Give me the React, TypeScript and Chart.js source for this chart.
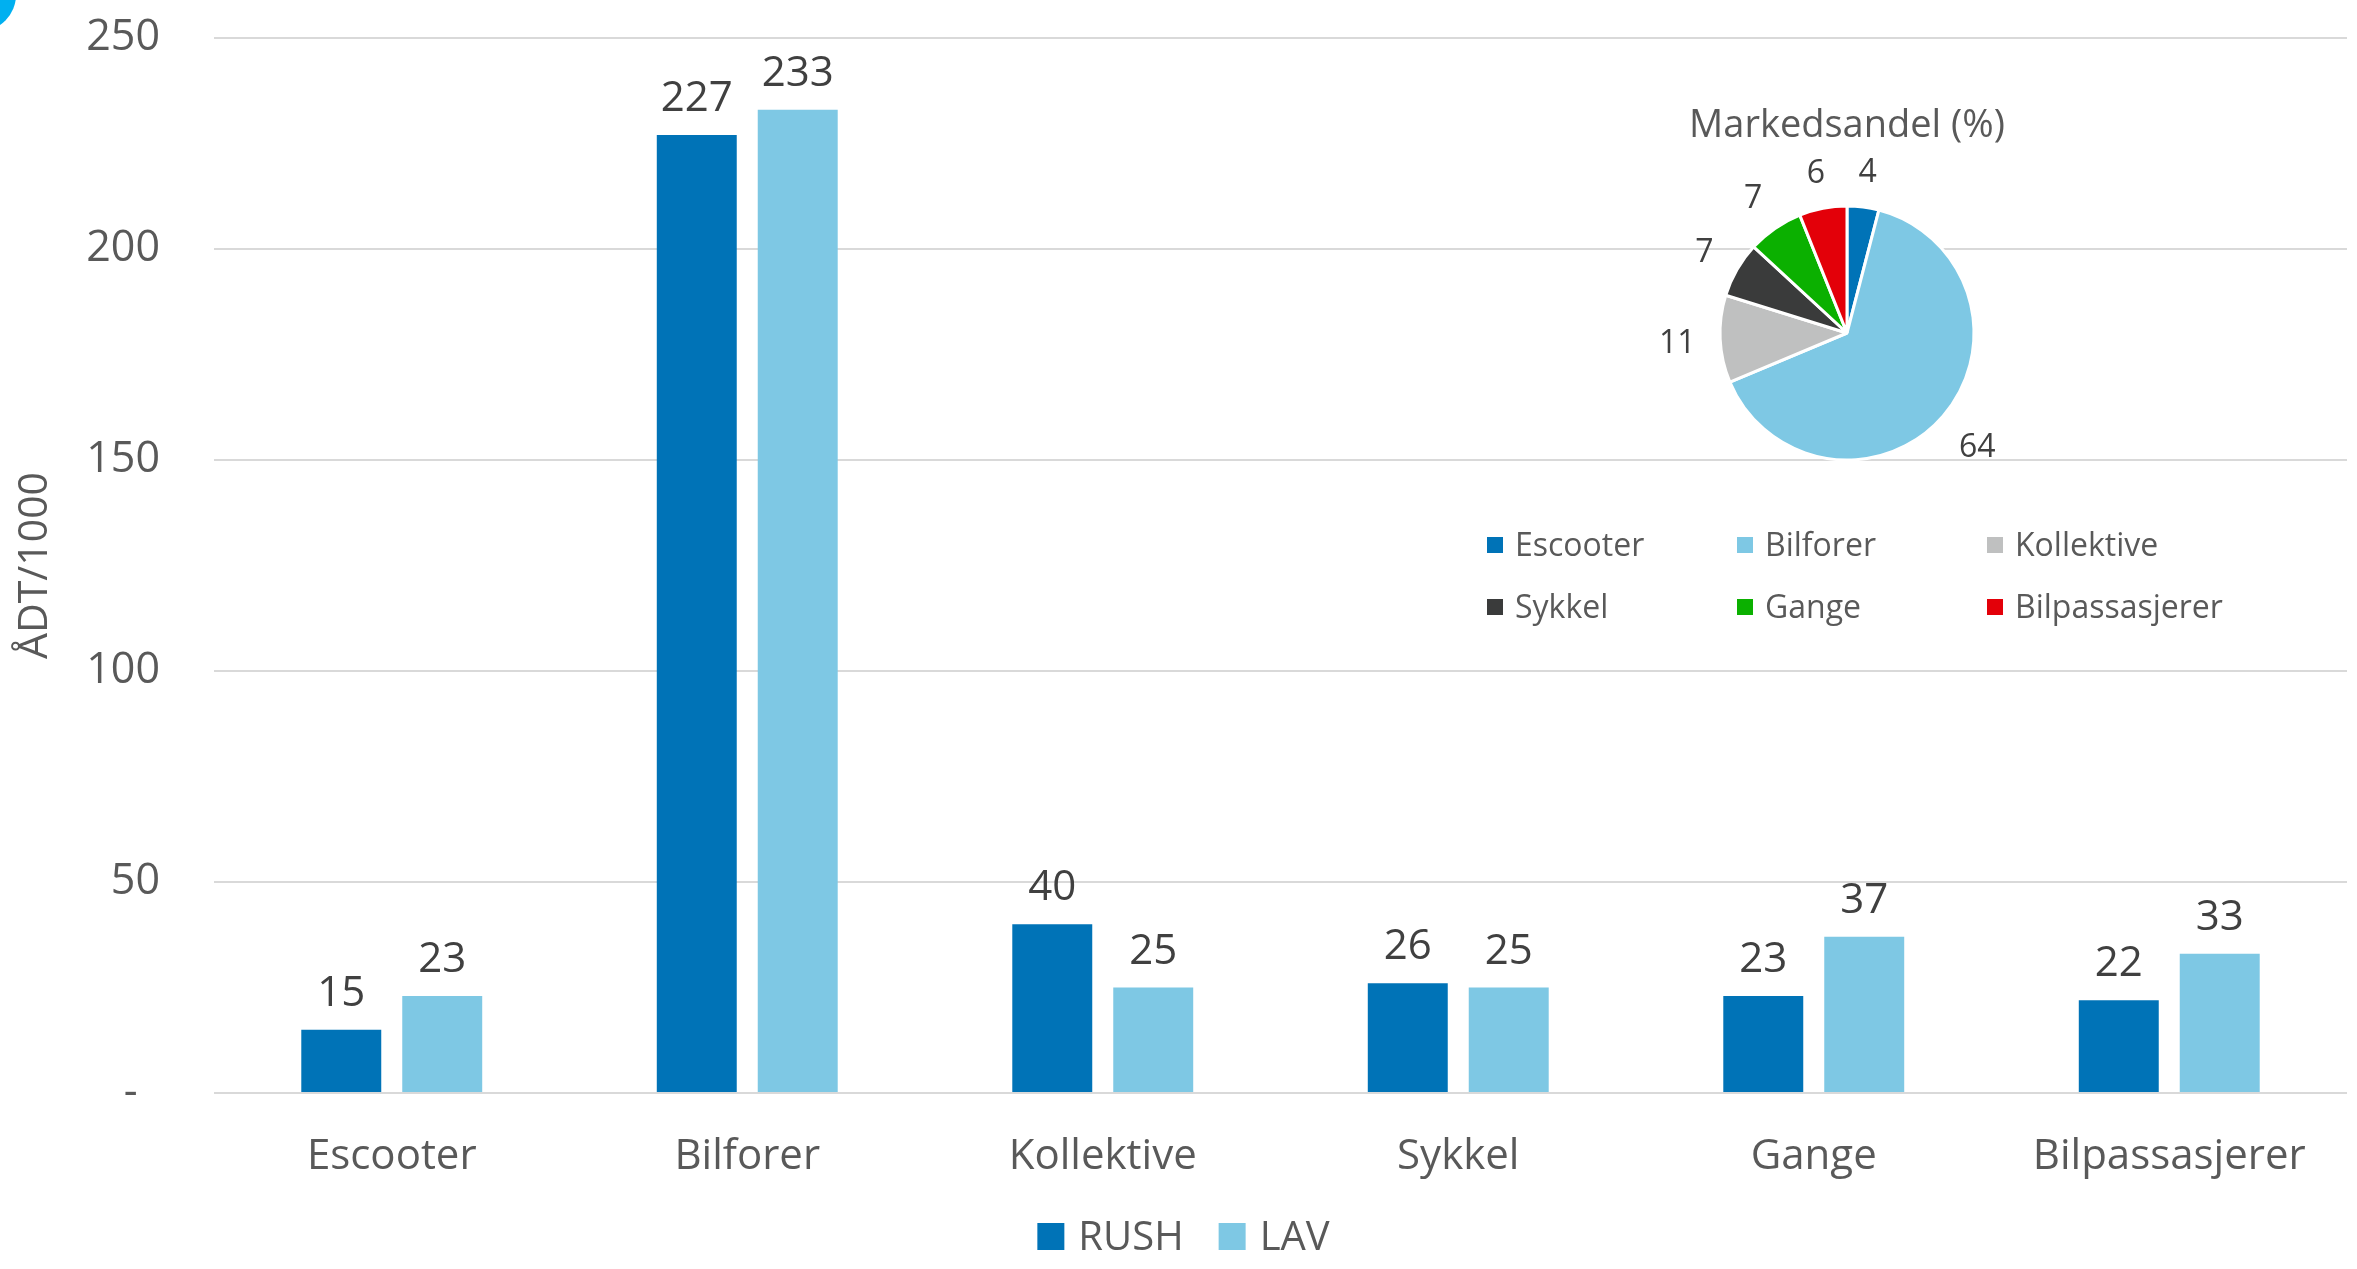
import React, { useEffect, useRef } from 'react';
import { Chart, registerables } from 'chart.js';

Chart.register(...registerables);

// ---------- data ----------
const categories = ['Escooter', 'Bilforer', 'Kollektive', 'Sykkel', 'Gange', 'Bilpassasjerer'];
const seriesNames = ['RUSH', 'LAV'];
const rushValues = [15, 227, 40, 26, 23, 22];
const lavValues = [23, 233, 25, 25, 37, 33];
const yTickValues = [0, 50, 100, 150, 200, 250];
const yAxisTitle = 'ÅDT/1000';
const pieTitle = 'Markedsandel (%)';
const pieLabels = ['Escooter', 'Bilforer', 'Kollektive', 'Sykkel', 'Gange', 'Bilpassasjerer'];
const pieShares = [4, 64, 11, 7, 7, 6];

// ---------- styles ----------
const W = 2357;
const H = 1269;
const FONT = "'Open Sans', 'Noto Sans', sans-serif";
const AXIS_TEXT = '#595959';
const VALUE_TEXT = '#404040';
const RUSH_COLOR = '#0073B7';
const LAV_COLOR = '#7EC8E4';
const PIE_COLORS = ['#0073B7', '#7EC8E4', '#BFC0C0', '#3A3B3B', '#0BB000', '#E30009'];

// pie canvas placement
const PIE_LEFT = 1440;
const PIE_TOP = 60;
const PIE_W = 860;
const PIE_H = 600;
const PIE_CX = 407;
const PIE_CY = 273;
const PIE_R = 127;

const barLabelPlugin = {
  id: 'barLabels',
  afterDatasetsDraw(chart: any) {
    const ctx = chart.ctx;
    ctx.save();
    ctx.font = `42px ${FONT}`;
    ctx.fillStyle = VALUE_TEXT;
    ctx.textAlign = 'center';
    ctx.textBaseline = 'alphabetic';
    chart.data.datasets.forEach((ds: any, di: number) => {
      const meta = chart.getDatasetMeta(di);
      meta.data.forEach((bar: any, i: number) => {
        ctx.fillText(String(ds.data[i]), bar.x, bar.y - 24);
      });
    });
    ctx.restore();
  },
};

const mainLegendPlugin = {
  id: 'mainLegend',
  afterDraw(chart: any) {
    const ctx = chart.ctx;
    const box = 27;
    const gapText = 14;
    const gapItem = 35;
    ctx.save();
    ctx.font = `40px ${FONT}`;
    const items = chart.data.datasets.map((ds: any) => ({
      text: ds.label,
      color: ds.backgroundColor,
      w: ctx.measureText(ds.label).width,
    }));
    let total = 0;
    items.forEach((it: any, i: number) => {
      total += box + gapText + it.w + (i < items.length - 1 ? gapItem : 0);
    });
    let x = chart.width / 2 + 5 - total / 2;
    const boxTop = chart.chartArea.bottom + 130;
    items.forEach((it: any) => {
      ctx.fillStyle = it.color;
      ctx.fillRect(x, boxTop, box, box);
      ctx.fillStyle = AXIS_TEXT;
      ctx.textAlign = 'left';
      ctx.textBaseline = 'alphabetic';
      ctx.fillText(it.text, x + box + gapText, boxTop + box);
      x += box + gapText + it.w + gapItem;
    });
    ctx.restore();
  },
};

const cornerDecorPlugin = {
  id: 'cornerDecor',
  beforeDraw(chart: any) {
    const ctx = chart.ctx;
    ctx.save();
    ctx.fillStyle = '#00B0F0';
    ctx.beginPath();
    ctx.arc(-20, -5, 36, 0, Math.PI * 2);
    ctx.fill();
    ctx.restore();
  },
};

const pieExtrasPlugin = {
  id: 'pieExtras',
  afterDraw(chart: any) {
    const ctx = chart.ctx;
    ctx.save();
    // title
    ctx.font = `38px ${FONT}`;
    ctx.fillStyle = AXIS_TEXT;
    ctx.textAlign = 'center';
    ctx.textBaseline = 'alphabetic';
    const meta = chart.getDatasetMeta(0);
    const cx = meta.data[0].x;
    const cy = meta.data[0].y;
    ctx.fillText(pieTitle, cx, cy - meta.data[0].outerRadius - 69);

    // slice labels (outside end)
    ctx.font = `32px ${FONT}`;
    ctx.fillStyle = VALUE_TEXT;
    const capH = 23;
    const ds = chart.data.datasets[0];
    meta.data.forEach((arc: any, i: number) => {
      const mid = (arc.startAngle + arc.endAngle) / 2;
      const dx = Math.cos(mid);
      const dy = Math.sin(mid);
      const txt = String(ds.data[i]);
      const w = ctx.measureText(txt).width;
      const support = Math.abs(dx) * w / 2 + Math.abs(dy) * capH / 2;
      const dist = arc.outerRadius + 24 + support;
      const lx = arc.x + dx * dist;
      const ly = arc.y + dy * dist;
      ctx.fillText(txt, lx, ly + capH / 2);
    });

    // legend 3 x 2
    ctx.font = `32px ${FONT}`;
    ctx.textAlign = 'left';
    const colX = [47, 297, 547];
    const rowY = [485, 547];
    const sq = 16;
    chart.data.labels.forEach((lab: string, i: number) => {
      const x = colX[i % 3];
      const y = rowY[Math.floor(i / 3)];
      ctx.fillStyle = ds.backgroundColor[i];
      ctx.fillRect(x, y - sq / 2, sq, sq);
      ctx.fillStyle = AXIS_TEXT;
      ctx.fillText(lab, x + sq + 12, y + 11);
    });
    ctx.restore();
  },
};

export default function App() {
  const mainRef = useRef<HTMLCanvasElement | null>(null);
  const pieRef = useRef<HTMLCanvasElement | null>(null);

  useEffect(() => {
    document.body.style.margin = '0';
    document.body.style.overflow = 'hidden';
    const mainChart = new Chart(mainRef.current as HTMLCanvasElement, {
      type: 'bar',
      data: {
        labels: categories,
        datasets: [
          { label: seriesNames[0], data: rushValues, backgroundColor: RUSH_COLOR, categoryPercentage: 0.568, barPercentage: 0.792 },
          { label: seriesNames[1], data: lavValues, backgroundColor: LAV_COLOR, categoryPercentage: 0.568, barPercentage: 0.792 },
        ],
      },
      options: {
        animation: false,
        responsive: false,
        events: [],
        layout: { padding: { top: 38, right: 10, left: 0, bottom: 0 } },
        plugins: { legend: { display: false }, tooltip: { enabled: false } },
        scales: {
          x: {
            grid: { display: false, drawTicks: false },
            border: { display: false },
            ticks: { font: { family: FONT, size: 42 }, color: AXIS_TEXT, padding: 39 },
            afterFit: (s: any) => { s.height = 176; },
          },
          y: {
            min: 0,
            max: 250,
            afterBuildTicks: (s: any) => { s.ticks = yTickValues.map((v) => ({ value: v })); },
            ticks: {
              font: { family: FONT, size: 43 },
              color: AXIS_TEXT,
              padding: 54,
              callback: (v: any) => (Number(v) === 0 ? '-  ' : String(v)),
            },
            grid: { color: '#D9D9D9', lineWidth: 2, drawTicks: false },
            border: { display: false },
            title: {
              display: true,
              text: yAxisTitle,
              font: { family: FONT, size: 41 },
              color: AXIS_TEXT,
              padding: { top: 11, bottom: 0 },
            },
            afterFit: (s: any) => {
              s.width = 214;
              s.paddingTop = 0;
              s.paddingBottom = 0;
            },
          },
        },
      },
      plugins: [cornerDecorPlugin, barLabelPlugin, mainLegendPlugin],
    });

    const pieChart = new Chart(pieRef.current as HTMLCanvasElement, {
      type: 'pie',
      data: {
        labels: pieLabels,
        datasets: [
          {
            data: pieShares,
            backgroundColor: PIE_COLORS,
            borderColor: '#FFFFFF',
            borderWidth: 3,
            radius: PIE_R,
          } as any,
        ],
      },
      options: {
        animation: false,
        responsive: false,
        events: [],
        layout: { padding: { left: 0, top: 0, right: PIE_W - 2 * PIE_CX, bottom: PIE_H - 2 * PIE_CY } },
        plugins: { legend: { display: false }, tooltip: { enabled: false } },
      },
      plugins: [pieExtrasPlugin],
    });

    return () => {
      mainChart.destroy();
      pieChart.destroy();
    };
  }, []);

  return (
    <div style={{ position: 'relative', width: W, height: H, background: '#FFFFFF' }}>
      <canvas ref={mainRef} width={W} height={H} style={{ position: 'absolute', left: 0, top: 0, display: 'block' }} />
      <canvas
        ref={pieRef}
        width={PIE_W}
        height={PIE_H}
        style={{ position: 'absolute', left: PIE_LEFT, top: PIE_TOP, display: 'block' }}
      />
    </div>
  );
}
